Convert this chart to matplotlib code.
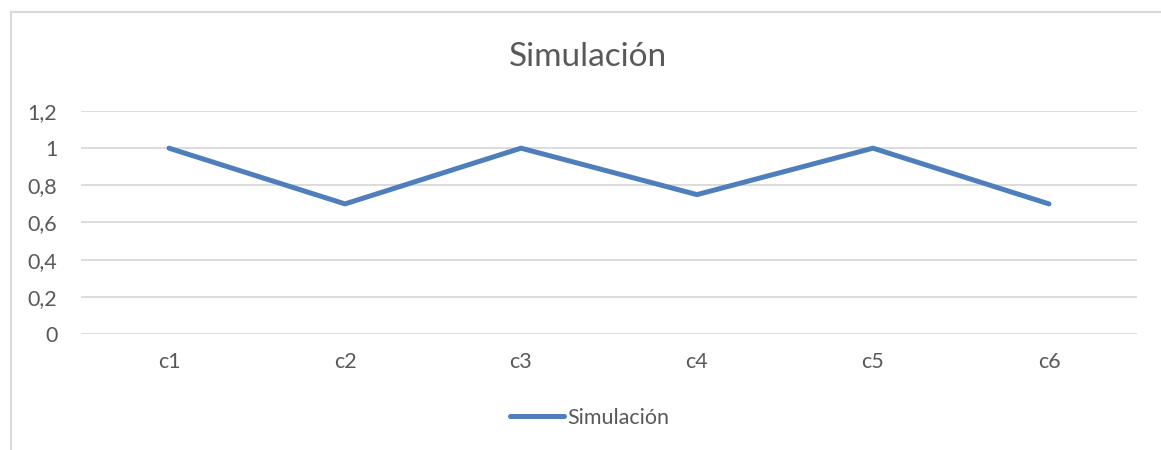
import matplotlib.pyplot as plt
from matplotlib.lines import Line2D

categories = ['c1', 'c2', 'c3', 'c4', 'c5', 'c6']
values = [1.0, 0.7, 1.0, 0.75, 1.0, 0.7]
yticks = [0, 0.2, 0.4, 0.6, 0.8, 1.0, 1.2]
ytick_labels = ['0', '0,2', '0,4', '0,6', '0,8', '1', '1,2']

text_color = '#595959'
line_color = '#4F7EBD'
grid_color = '#D9D9D9'

plt.rcParams['font.family'] = ['Lato', 'DejaVu Sans']

fig = plt.figure(figsize=(11.61, 4.5), dpi=100)
ax = fig.add_axes([81 / 1161, 1 - 334 / 450, (1137 - 81) / 1161, (334 - 111) / 450])

x = [i + 0.5 for i in range(len(categories))]
ax.plot(x, values, color=line_color, linewidth=3.6, solid_capstyle='round',
        solid_joinstyle='round', zorder=3)

ax.set_xlim(0, len(categories))
ax.set_ylim(0, 1.2)
ax.set_xticks(x)
ax.set_xticklabels(categories)
ax.set_yticks(yticks)
ax.set_yticklabels(ytick_labels)
ax.tick_params(length=0, colors=text_color, labelsize=15.5)
ax.tick_params(axis='x', pad=13)
ax.tick_params(axis='y', pad=17)
for lbl in ax.get_yticklabels():
    lbl.set_horizontalalignment('right')

ax.grid(axis='y', color=grid_color, linewidth=1.3)
for s in ax.spines.values():
    s.set_visible(False)

fig.text(0.506, 1 - 57 / 450, 'Simulación', ha='center', va='center',
         fontsize=24, color=text_color)

# legend
handle = Line2D([], [], color=line_color, linewidth=3.6, solid_capstyle='round')
fig.legend([handle], ['Simulación'], loc='center', bbox_to_anchor=(0.508, 1 - 418 / 450),
           frameon=False, fontsize=15.5, labelcolor=text_color, handlelength=2.5,
           handletextpad=0.15)

# chart border (left and top visible)
fig.add_artist(Line2D([11 / 1161, 11 / 1161], [0, 1 - 12 / 450], color=grid_color,
                      linewidth=1.5, transform=fig.transFigure))
fig.add_artist(Line2D([11 / 1161, 1], [1 - 12 / 450, 1 - 12 / 450], color=grid_color,
                      linewidth=1.5, transform=fig.transFigure))

fig.savefig('out.png', dpi=100)
